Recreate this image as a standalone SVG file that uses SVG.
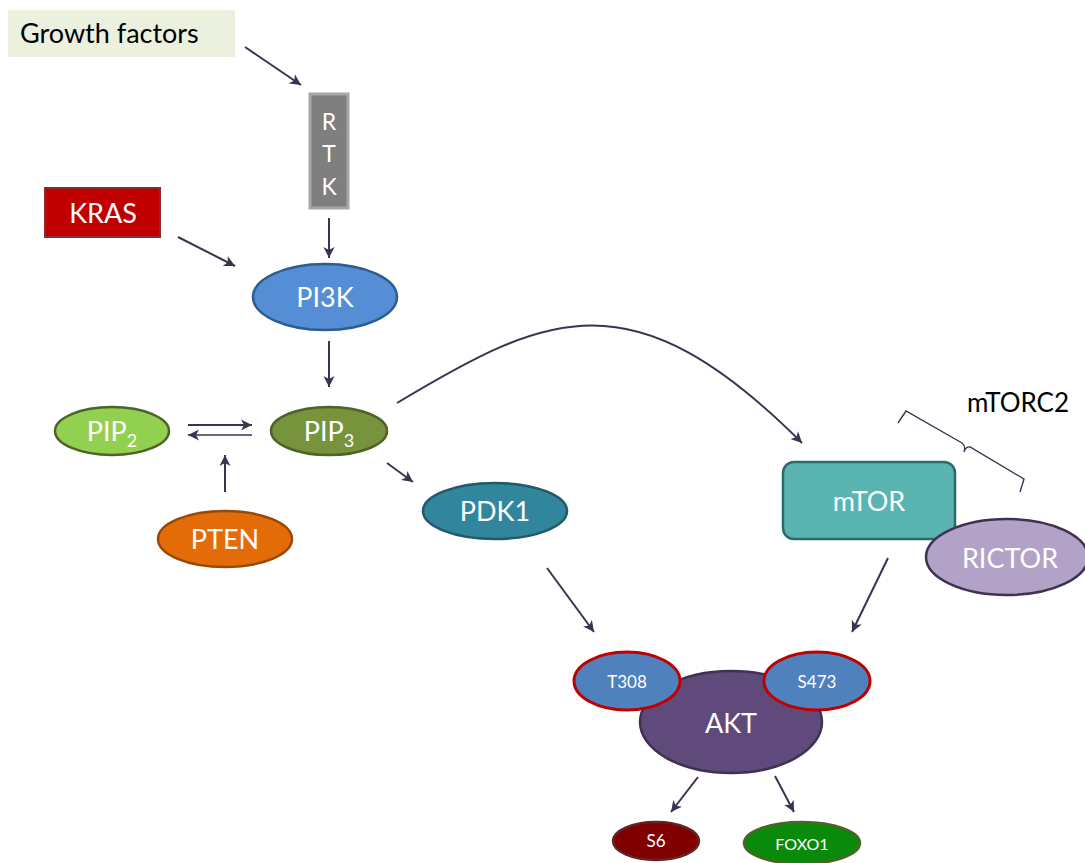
<svg xmlns="http://www.w3.org/2000/svg" width="1085" height="863" viewBox="0 0 1085 863">
<defs>
<marker id="ah" markerWidth="12" markerHeight="12" refX="11" refY="6" orient="auto" markerUnits="userSpaceOnUse">
<path d="M0,0.5 L11,6 L0,11.5 L3,6 Z" fill="#3f3151"/>
</marker>
</defs>
<style>
text{font-family:Lato,"Open Sans","Liberation Sans",sans-serif;fill:#fff;text-anchor:middle}
.c{stroke:#3f3151;stroke-width:2;fill:none;marker-end:url(#ah)}
.lbl{font-size:27px}
.sm{font-size:17px}
</style>
<rect width="1085" height="863" fill="#fff"/>
<g id="connectors">
<line class="c" x1="245" y1="47" x2="301" y2="85"/>
<line class="c" x1="329" y1="218" x2="329" y2="258"/>
<line class="c" x1="178" y1="237" x2="235" y2="266"/>
<line class="c" x1="329" y1="341" x2="329" y2="387"/>
<line class="c" x1="188" y1="425" x2="252" y2="425"/>
<line class="c" x1="252" y1="435" x2="188" y2="435" style="stroke-width:1.5"/>
<line class="c" x1="225" y1="492" x2="225" y2="455"/>
<line class="c" x1="387" y1="463" x2="413" y2="482"/>
<path class="c" d="M397,403 C547,313 632,273 802,443"/>
<line class="c" x1="547" y1="568" x2="594" y2="632"/>
<line class="c" x1="888" y1="558" x2="852" y2="632"/>
<line class="c" x1="698" y1="777" x2="671" y2="812"/>
<line class="c" x1="775" y1="776" x2="794" y2="812"/>
<path d="M898,423 L906,411 L962,443 Q966,446 964,452 Q966,446 970,447 L1024,479 L1020,492" fill="none" stroke="#3f3151" stroke-width="1.4"/>
</g>
<g id="growth-factors">
<rect x="8" y="10" width="227" height="47" fill="#ebf1de"/>
<text x="20" y="43" class="lbl" style="fill:#000;text-anchor:start">Growth factors</text>
</g>
<g id="rtk">
<rect x="310" y="94" width="38" height="114" fill="#7f7f7f" stroke="#a6a6a6" stroke-width="3"/>
<text x="329" y="130" style="font-size:23px">R</text>
<text x="329" y="162" style="font-size:23px">T</text>
<text x="329" y="195" style="font-size:23px">K</text>
</g>
<g id="kras">
<rect x="45" y="188" width="115" height="49" fill="#c00000" stroke="#8c2b2b" stroke-width="2"/>
<text x="103" y="223" class="lbl">KRAS</text>
</g>
<g id="pi3k">
<ellipse cx="325" cy="297" rx="72" ry="33" fill="#558ed5" stroke="#2c5d8f" stroke-width="2.5"/>
<text x="325" y="307" class="lbl">PI3K</text>
</g>
<g id="pip2">
<ellipse cx="112" cy="431" rx="57" ry="24" fill="#92d050" stroke="#4f6228" stroke-width="2.5"/>
<text x="112" y="441" class="lbl">PIP<tspan dy="6" style="font-size:18px">2</tspan></text>
</g>
<g id="pip3">
<ellipse cx="329" cy="431" rx="58" ry="24" fill="#77933c" stroke="#4f6228" stroke-width="2.5"/>
<text x="329" y="441" class="lbl">PIP<tspan dy="6" style="font-size:18px">3</tspan></text>
</g>
<g id="pten">
<ellipse cx="225" cy="539" rx="67" ry="28" fill="#e36c09" stroke="#984807" stroke-width="2.5"/>
<text x="225" y="549" class="lbl">PTEN</text>
</g>
<g id="pdk1">
<ellipse cx="495" cy="511" rx="72" ry="28" fill="#31859c" stroke="#215968" stroke-width="2.5"/>
<text x="495" y="521" class="lbl">PDK1</text>
</g>
<g id="mtorc2-label">
<text x="1018" y="412" style="fill:#000;font-size:26px">mTORC2</text>
</g>
<g id="mtor">
<rect x="783" y="462" width="172" height="77" rx="11" fill="#5ab4b2" stroke="#2b6a6a" stroke-width="2.5"/>
<text x="869" y="511" class="lbl">mTOR</text>
</g>
<g id="rictor">
<ellipse cx="1007" cy="557" rx="81" ry="38" fill="#b3a2c7" stroke="#3f3151" stroke-width="2.5"/>
<text x="1010" y="568" class="lbl">RICTOR</text>
</g>
<g id="akt">
<ellipse cx="731" cy="722" rx="91" ry="51" fill="#604a7b" stroke="#3f3151" stroke-width="2.5"/>
<text x="731" y="733" class="lbl">AKT</text>
</g>
<g id="t308">
<ellipse cx="627" cy="681" rx="53" ry="29" fill="#4f81bd" stroke="#c00000" stroke-width="3"/>
<text x="627" y="688" class="sm">T308</text>
</g>
<g id="s473">
<ellipse cx="817" cy="681" rx="53" ry="29" fill="#4f81bd" stroke="#c00000" stroke-width="3"/>
<text x="817" y="688" class="sm">S473</text>
</g>
<g id="s6">
<ellipse cx="656" cy="841" rx="43" ry="19" fill="#800000" stroke="#632523" stroke-width="2.5"/>
<text x="656" y="847" style="font-size:17px">S6</text>
</g>
<g id="foxo1">
<ellipse cx="802" cy="843" rx="58" ry="21" fill="#0a8a0a" stroke="#4f6228" stroke-width="2.5"/>
<text x="802" y="850" style="font-size:16px">FOXO1</text>
</g>
</svg>
